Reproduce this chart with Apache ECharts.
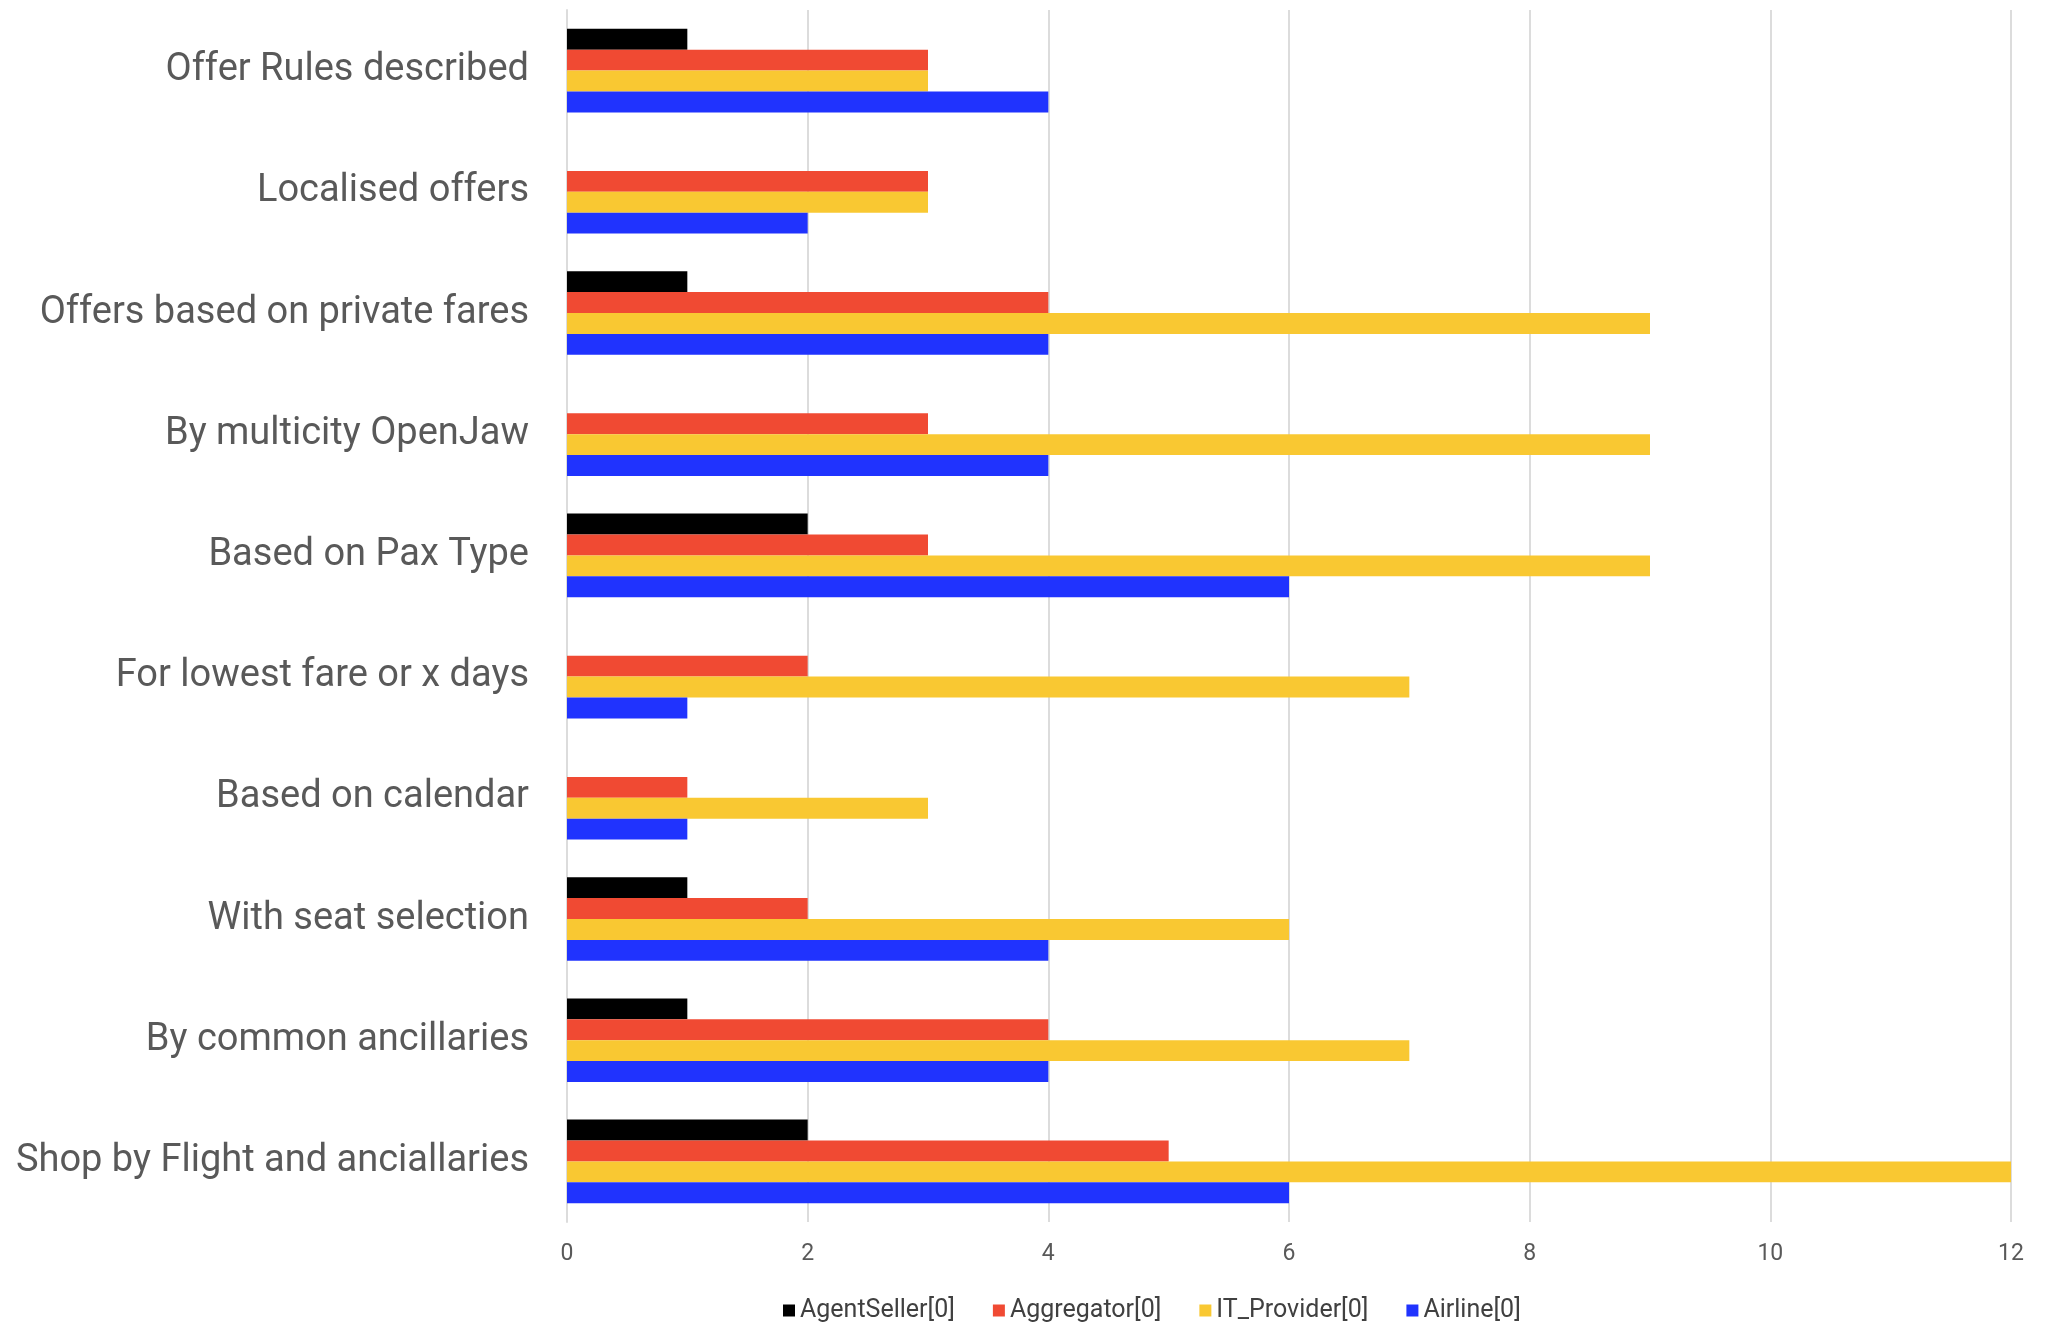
<!DOCTYPE html>
<html>
<head>
<meta charset="utf-8">
<script src="https://cdn.jsdelivr.net/npm/echarts@6/dist/echarts.min.js"></script>
<style>
html,body{margin:0;padding:0;background:#fff;}
#chart{width:2048px;height:1326px;}
</style>
</head>
<body>
<div id="chart"></div>
<script>
const categories = [
  "Offer Rules described",
  "Localised offers",
  "Offers based on private fares",
  "By multicity OpenJaw",
  "Based on Pax Type",
  "For lowest fare or x days",
  "Based on calendar",
  "With seat selection",
  "By common ancillaries",
  "Shop by Flight and anciallaries"
];
const agentSeller = [1, 0, 1, 0, 2, 0, 0, 1, 1, 2];
const aggregator  = [3, 3, 4, 3, 3, 2, 1, 2, 4, 5];
const itProvider  = [3, 3, 9, 9, 9, 7, 3, 6, 7, 12];
const airline     = [4, 2, 4, 4, 6, 1, 1, 4, 4, 6];
const seriesNames = ["AgentSeller[0]", "Aggregator[0]", "IT_Provider[0]", "Airline[0]"];
const xTicks = { min: 0, max: 12, interval: 2 };

const colors = ["#000000", "#F04A33", "#F9C832", "#2033FE"];
const datasets = [agentSeller, aggregator, itProvider, airline];

const chart = echarts.init(document.getElementById('chart'), null, {renderer: 'canvas'});
const font = 'Roboto, "Noto Sans", sans-serif';
chart.setOption({
  animation: false,
  backgroundColor: '#ffffff',
  color: colors,
  grid: { left: 567, right: 37, top: 10, bottom: 104, containLabel: false },
  legend: {
    data: seriesNames,
    left: 778,
    top: 1293,
    itemWidth: 12,
    itemHeight: 12,
    itemGap: 38,
    icon: 'rect',
    textStyle: { fontFamily: font, fontSize: 25, color: '#404040' }
  },
  xAxis: {
    type: 'value',
    min: xTicks.min,
    max: xTicks.max,
    interval: xTicks.interval,
    axisLine: { show: false },
    axisTick: { show: false },
    axisLabel: { fontFamily: font, fontSize: 23, color: '#595959', margin: 21 },
    splitLine: { show: true, lineStyle: { color: '#dcdcdc', width: 2 } }
  },
  yAxis: {
    type: 'category',
    inverse: true,
    data: categories,
    axisLine: { show: true, lineStyle: { color: '#dcdcdc', width: 2 } },
    axisTick: { show: false },
    axisLabel: { fontFamily: font, fontSize: 38, color: '#595959', margin: 38 }
  },
  series: datasets.map((d, i) => ({
    name: seriesNames[i],
    type: 'bar',
    data: d,
    barGap: '0%',
    barCategoryGap: '31%',
    itemStyle: { color: colors[i] }
  }))
});
</script>
</body>
</html>
